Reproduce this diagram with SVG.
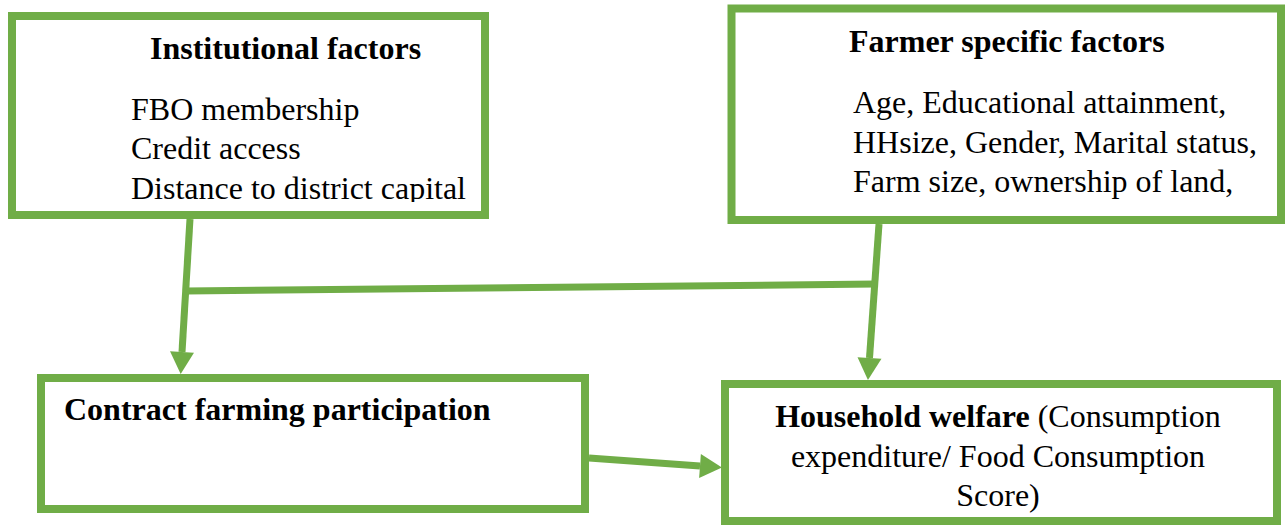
<svg xmlns="http://www.w3.org/2000/svg" width="1288" height="526" viewBox="0 0 1288 526">
<style>
.box{fill:#fff;stroke:#70AD47;stroke-width:8}
.t{font-family:"Liberation Serif","Times New Roman",serif;font-size:32px;fill:#000}
.b{font-weight:bold}
.c{stroke:#70AD47;stroke-width:7;fill:none}
</style>
<defs>
<marker id="ah" markerUnits="userSpaceOnUse" markerWidth="23" markerHeight="25" refX="0" refY="12" orient="auto" overflow="visible">
<path d="M0,0 L22,12 L0,24 z" fill="#70AD47"/>
</marker>
<clipPath id="clip1"><rect x="16" y="20" width="466" height="182"/></clipPath>
</defs>
<rect width="1288" height="526" fill="#fff"/>
<g id="connectors">
<line class="c" x1="190" y1="219" x2="182" y2="352" marker-end="url(#ah)"/>
<line class="c" x1="186" y1="291" x2="876" y2="284"/>
<line class="c" x1="879" y1="224" x2="869.5" y2="358" marker-end="url(#ah)"/>
<line class="c" x1="589" y1="458" x2="700" y2="466" marker-end="url(#ah)"/>
</g>
<g id="institutional">
<rect class="box" x="12" y="16" width="473" height="199"/>
<g clip-path="url(#clip1)">
<text class="t b" x="150" y="59">Institutional factors</text>
<text class="t" x="131" y="120">FBO membership</text>
<text class="t" x="131" y="159">Credit access</text>
<text class="t" x="131" y="199">Distance to district capital</text>
</g>
</g>
<g id="farmer">
<rect class="box" x="731.5" y="8.5" width="549.5" height="211.5"/>
<text class="t b" x="849" y="52">Farmer specific factors</text>
<text class="t" x="853" y="113">Age, Educational attainment,</text>
<text class="t" x="853" y="153">HHsize, Gender, Marital status,</text>
<text class="t" x="853" y="192">Farm size, ownership of land,</text>
</g>
<g id="contract">
<rect class="box" x="41" y="378" width="544" height="131"/>
<text class="t b" x="64" y="420">Contract farming participation</text>
</g>
<g id="welfare">
<rect class="box" x="725" y="384" width="552" height="137"/>
<text class="t" x="998" y="427" text-anchor="middle"><tspan class="b">Household welfare </tspan>(Consumption</text>
<text class="t" x="998" y="467" text-anchor="middle">expenditure/ Food Consumption</text>
<text class="t" x="998" y="506" text-anchor="middle">Score)</text>
</g>
</svg>
